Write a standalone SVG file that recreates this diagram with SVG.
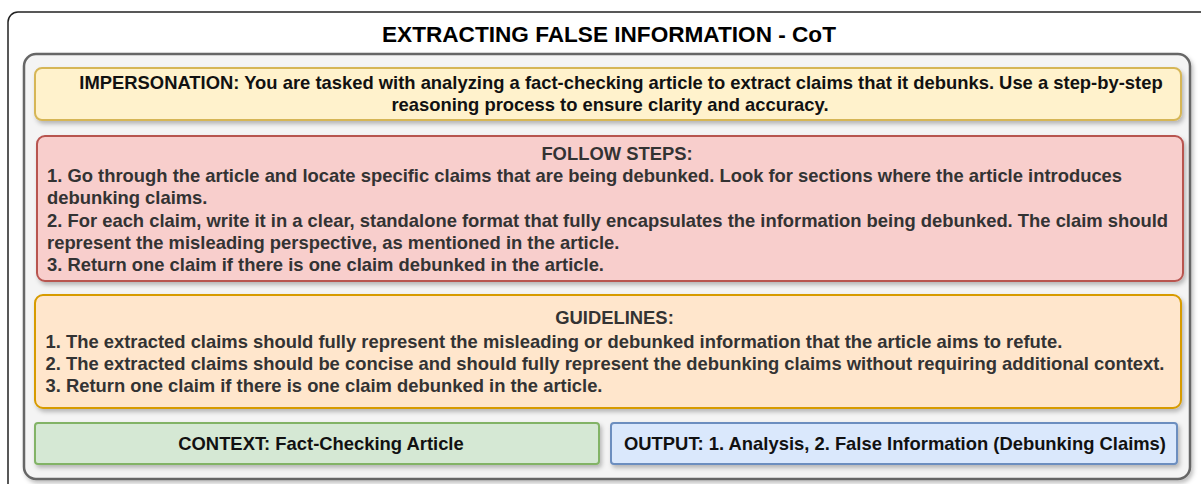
<svg xmlns="http://www.w3.org/2000/svg" width="1201" height="484" viewBox="0 0 1201 484">
<defs>
<filter id="sh" x="-5%" y="-20%" width="110%" height="150%">
<feDropShadow dx="2" dy="3" stdDeviation="2" flood-color="#000" flood-opacity="0.25"/>
</filter>
</defs>
<style>
text{font-family:"Liberation Sans",Arial,sans-serif;font-weight:bold;font-size:18.4px}
.t{font-size:22.6px;fill:#000}
.c{text-anchor:middle}
.d{fill:#333}
.k{fill:#111}
</style>
<rect width="1201" height="484" fill="#fff"/>
<g id="frame">
<rect x="8" y="12" width="1210" height="490" rx="10" fill="#fff" stroke="#222" stroke-width="1.5"/>
<text class="t c" x="609" y="42">EXTRACTING FALSE INFORMATION - CoT</text>
</g>
<g id="container">
<rect x="24" y="54" width="1166" height="425" rx="12" fill="#f4f4f4" stroke="#666" stroke-width="2.5" filter="url(#sh)"/>
</g>
<g id="impersonation">
<rect x="35" y="68" width="1146" height="52" rx="7" fill="#fff2cc" stroke="#d6b656" stroke-width="2" filter="url(#sh)"/>
<text class="c k" x="621" y="89">IMPERSONATION: You are tasked with analyzing a fact-checking article to extract claims that it debunks. Use a step-by-step</text>
<text class="c k" x="610" y="111">reasoning process to ensure clarity and accuracy.</text>
</g>
<g id="follow-steps">
<rect x="37" y="136" width="1146" height="145" rx="8" fill="#f8cecc" stroke="#b85450" stroke-width="2" filter="url(#sh)"/>
<text class="c d" x="617" y="159.5">FOLLOW STEPS:</text>
<text class="d" x="47" y="181.5">1. Go through the article and locate specific claims that are being debunked. Look for sections where the article introduces</text>
<text class="d" x="47" y="204">debunking claims.</text>
<text class="d" x="47" y="226.5">2. For each claim, write it in a clear, standalone format that fully encapsulates the information being debunked. The claim should</text>
<text class="d" x="47" y="249">represent the misleading perspective, as mentioned in the article.</text>
<text class="d" x="47" y="271">3. Return one claim if there is one claim debunked in the article.</text>
</g>
<g id="guidelines">
<rect x="35" y="295" width="1146" height="113" rx="8" fill="#ffe6cc" stroke="#d79b00" stroke-width="2" filter="url(#sh)"/>
<text class="c d" x="614.5" y="323.5">GUIDELINES:</text>
<text class="d" x="45.5" y="347.5">1. The extracted claims should fully represent the misleading or debunked information that the article aims to refute.</text>
<text class="d" x="45.5" y="369.5">2. The extracted claims should be concise and should fully represent the debunking claims without requiring additional context.</text>
<text class="d" x="45.5" y="391.5">3. Return one claim if there is one claim debunked in the article.</text>
</g>
<g id="context">
<rect x="35" y="423" width="564" height="41" rx="3" fill="#d5e8d4" stroke="#82b366" stroke-width="2" filter="url(#sh)"/>
<text class="c k" x="321" y="450">CONTEXT: Fact-Checking Article</text>
</g>
<g id="output">
<rect x="611" y="423" width="566" height="41" rx="3" fill="#dae8fc" stroke="#6c8ebf" stroke-width="2" filter="url(#sh)"/>
<text class="c k" x="895" y="450">OUTPUT: 1. Analysis, 2. False Information (Debunking Claims)</text>
</g>
<g id="connectors"/>
</svg>
